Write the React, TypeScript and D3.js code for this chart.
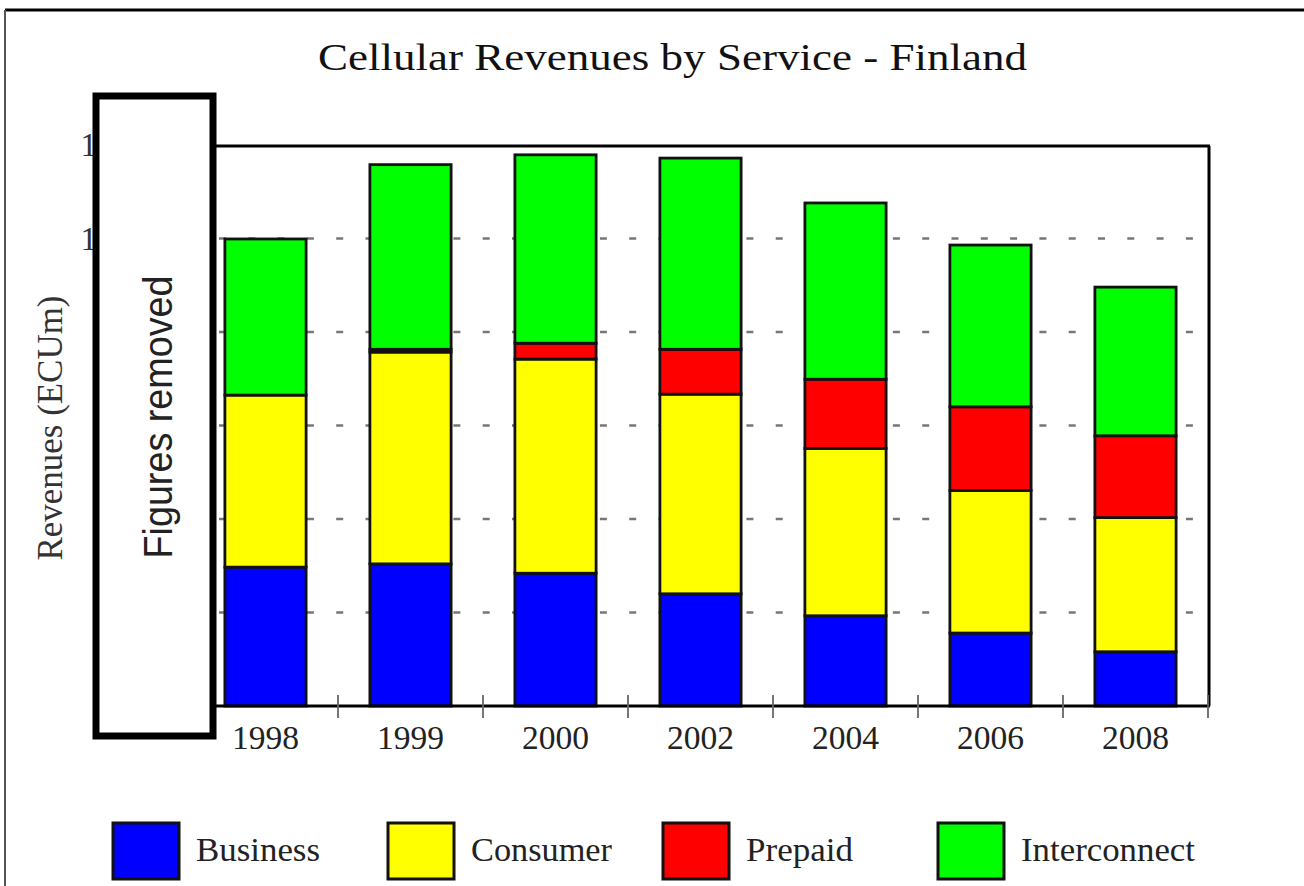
import React from "react";
import * as d3 from "d3";

const years = ["1998", "1999", "2000", "2002", "2004", "2006", "2008"];
const business = [29.7, 30.4, 28.4, 24.0, 19.3, 15.6, 11.6];
const consumer = [36.8, 45.3, 45.8, 42.7, 35.8, 30.5, 28.7];
const prepaid = [0, 0.6, 3.4, 9.6, 14.8, 17.9, 17.5];
const interconnect = [33.4, 39.5, 40.3, 40.9, 37.7, 34.6, 31.8];
const yTicks = [0, 20, 40, 60, 80, 100, 120];
const seriesNames = ["Business", "Consumer", "Prepaid", "Interconnect"];
const seriesColors = ["#0000ff", "#ffff00", "#ff0000", "#00ff00"];
const legendTextLen = [124, 141, 107, 174];

const W = 1304;
const H = 886;

export default function App() {
  const x = d3.scaleBand<string>().domain(years).range([193, 1208]).paddingInner(0.44).paddingOuter(0.22);
  const y = d3.scaleLinear().domain([0, 120]).range([706, 145]);

  const rows = years.map((yr, i) => ({
    year: yr,
    Business: business[i],
    Consumer: consumer[i],
    Prepaid: prepaid[i],
    Interconnect: interconnect[i],
  }));
  const stacked = d3.stack<any>().keys(seriesNames)(rows);

  const serif = "'Liberation Serif', 'Times New Roman', serif";
  const sans = "'Liberation Sans', Arial, sans-serif";
  const step = x.step();
  const boundaries = years.map((_, i) => 193 + step * (i + 1));

  return (
    <svg width={W} height={H} style={{ position: "absolute", left: 0, top: 0, background: "#fff" }}>
      <rect x={0} y={0} width={W} height={H} fill="#fff" />
      {/* outer border */}
      <line x1={5} x2={W} y1={10} y2={10} stroke="#000" strokeWidth={3} />
      <line x1={5} x2={5} y1={10} y2={H} stroke="#555" strokeWidth={2} />

      {/* title */}
      <text x={318} y={70} fontFamily={serif} fontSize={38} fill="#111" textLength={709} lengthAdjust="spacingAndGlyphs">
        Cellular Revenues by Service - Finland
      </text>

      {/* gridlines */}
      {yTicks.filter((t) => t > 0 && t < 120).map((t) => (
        <line key={t} x1={219} x2={1195} y1={y(t)} y2={y(t)} stroke="#777" strokeWidth={2.5} strokeDasharray="7,22.3" />
      ))}

      {/* bars */}
      {stacked.map((s, si) => (
        <g key={s.key}>
          {s.map((d, i) =>
            d[1] - d[0] > 0 ? (
              <rect
                key={i}
                x={x(years[i])!}
                y={y(d[1])}
                width={x.bandwidth()}
                height={y(d[0]) - y(d[1])}
                fill={seriesColors[si]}
                stroke="#111"
                strokeWidth={2.8}
              />
            ) : null
          )}
        </g>
      ))}

      {/* plot frame */}
      <line x1={200} x2={1210} y1={146} y2={146} stroke="#000" strokeWidth={3} />
      <line x1={1209} x2={1209} y1={146} y2={706} stroke="#000" strokeWidth={3} />
      <line x1={200} x2={1210} y1={706} y2={706} stroke="#000" strokeWidth={3} />
      {boundaries.map((b, i) => (
        <line key={i} x1={b} x2={b} y1={695} y2={718} stroke="#666" strokeWidth={1.8} />
      ))}

      {/* x tick labels */}
      {years.map((yr) => (
        <text
          key={yr}
          x={x(yr)! + x.bandwidth() / 2}
          y={749}
          textAnchor="middle"
          fontFamily={serif}
          fontSize={33}
          fill="#222"
          textLength={67}
          lengthAdjust="spacingAndGlyphs"
        >
          {yr}
        </text>
      ))}

      {/* y tick labels (mostly hidden) */}
      {yTicks.map((t) => (
        <text key={t} x={130} y={y(t) + 11} textAnchor="end" fontFamily={serif} fontSize={33} fill="#333">
          {t}
        </text>
      ))}

      {/* y axis label */}
      <text
        transform={`translate(62,428) rotate(-90)`}
        textAnchor="middle"
        fontFamily={serif}
        fontSize={36}
        fill="#333"
        textLength={265}
        lengthAdjust="spacingAndGlyphs"
      >
        Revenues (ECUm)
      </text>

      {/* figures removed box */}
      <rect x={96} y={96} width={117} height={640} fill="#fff" stroke="#000" strokeWidth={7} />
      <text
        transform={`translate(172,417) rotate(-90)`}
        textAnchor="middle"
        fontFamily={sans}
        fontSize={40}
        fill="#222"
        textLength={283}
        lengthAdjust="spacingAndGlyphs"
      >
        Figures removed
      </text>

      {/* legend */}
      {seriesNames.map((n, i) => (
        <g key={n} transform={`translate(${113 + i * 275},823)`}>
          <rect x={0} y={0} width={66} height={56} fill={seriesColors[i]} stroke="#111" strokeWidth={3} />
          <text x={83} y={38} fontFamily={serif} fontSize={33} fill="#222" textLength={legendTextLen[i]} lengthAdjust="spacingAndGlyphs">
            {n}
          </text>
        </g>
      ))}
    </svg>
  );
}
